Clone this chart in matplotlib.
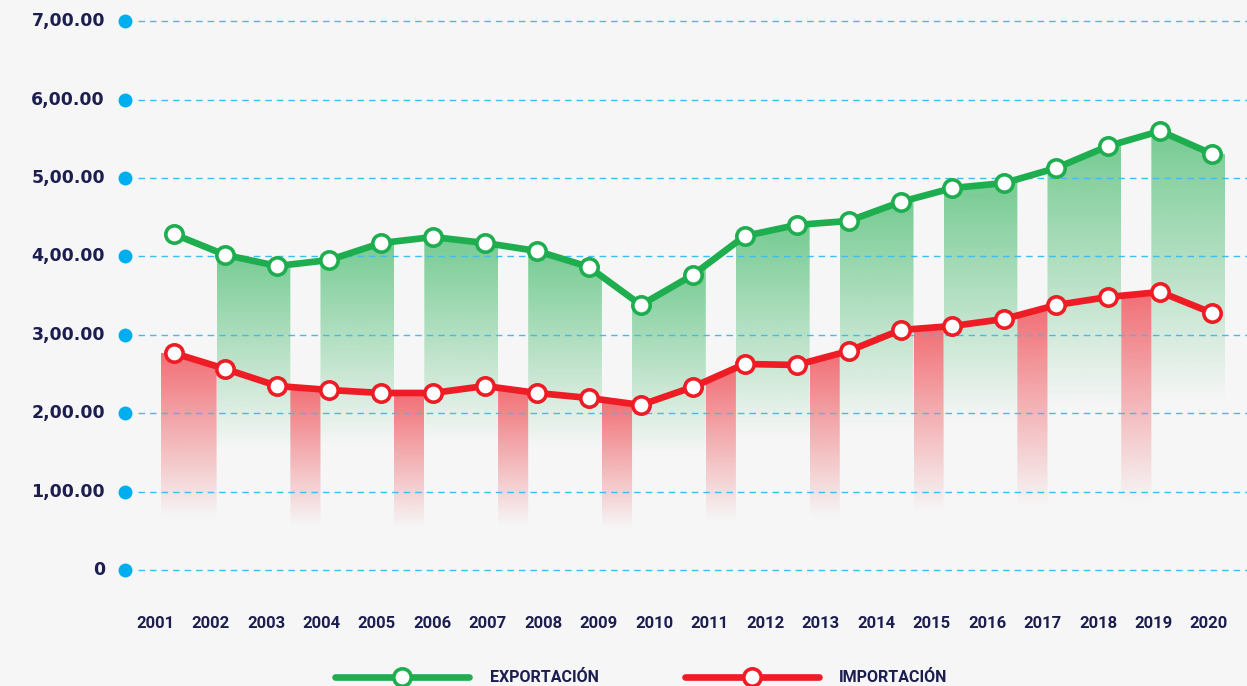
import numpy as np
import matplotlib
matplotlib.use('Agg')
import matplotlib.pyplot as plt
from matplotlib.patches import Polygon
from matplotlib.lines import Line2D
import matplotlib.transforms as mtransforms
from matplotlib.colors import to_rgb

# ---------------- data ----------------
years = ['2001', '2002', '2003', '2004', '2005', '2006', '2007', '2008', '2009', '2010',
         '2011', '2012', '2013', '2014', '2015', '2016', '2017', '2018', '2019', '2020']
exportacion = [428.6, 401.8, 387.8, 395.4, 417.1, 424.7, 417.1, 406.9, 386.5, 338.0,
               376.3, 426.0, 440.1, 445.2, 469.4, 487.2, 493.6, 512.8, 540.8, 559.9, 530.6]
importacion = [276.8, 256.4, 234.7, 229.6, 225.8, 225.8, 234.7, 225.8, 219.4, 210.5,
               233.4, 262.8, 261.5, 279.3, 306.1, 311.2, 320.2, 338.0, 348.2, 354.6, 327.8]
ytick_values = [0, 100, 200, 300, 400, 500, 600, 700]
ytick_labels = ['0', '1,00.00', '2,00.00', '3,00.00', '4,00.00', '5,00.00', '6,00.00', '7,00.00']
series_names = ['EXPORTACIÓN', 'IMPORTACIÓN']

# ---------------- style ----------------
BG = '#f6f6f6'
GREEN = '#1fae4f'
RED = '#ee1c25'
NAVY = '#1c1e50'
CYAN = '#00aeef'
GRID = '#3dbdf0'
YEAR_FONT = ['Roboto', 'DejaVu Sans']

W, H = 1247, 686
fig = plt.figure(figsize=(W / 100, H / 100), dpi=100, facecolor=BG)
ax = fig.add_axes([0, 0, 1, 1])
ax.set_facecolor(BG)
ax.axis('off')

# mapping: point index -> pixel, value -> pixel
x0px, dxpx = 173.5, 51.93
y0px, pxper = 570.0, 0.784
xlim = (-x0px / dxpx, (W - x0px) / dxpx)
ylim = ((y0px - H) / pxper, y0px / pxper)

idx = np.arange(len(exportacion))


def gradient_bar(xa, xb, vals, color, frac, alpha_top):
    xs = np.linspace(xa, xb, 60)
    top = np.interp(xs, idx, vals)
    tmax = top.max()
    bottom = tmax * (1 - frac)
    n = 256
    rgba = np.zeros((n, 1, 4))
    rgba[..., :3] = to_rgb(color)
    rgba[:, 0, 3] = np.linspace(alpha_top, 0, n)
    im = ax.imshow(rgba, extent=[xa, xb, bottom, tmax], aspect='auto',
                   origin='upper', zorder=1, interpolation='bilinear')
    poly = Polygon(np.column_stack([np.r_[xa, xs, xb], np.r_[bottom, top, bottom]]),
                   closed=True, transform=ax.transData, facecolor='none', edgecolor='none')
    im.set_clip_path(poly)


# red bars
gradient_bar(-0.24, 0.83, importacion, RED, 0.76, 0.62)
for k in range(1, 10):
    gradient_bar(0.25 + 2 * k, 0.83 + 2 * k, importacion, RED, 0.76, 0.62)
# green bars
for k in range(10):
    gradient_bar(0.83 + 2 * k, 2.25 + 2 * k, exportacion, GREEN, 0.62, 0.6)

ax.set_xlim(*xlim)
ax.set_ylim(*ylim)

# gridlines, dots, labels
trans = mtransforms.blended_transform_factory(ax.transAxes, ax.transData)
for v, lab in zip(ytick_values, ytick_labels):
    ax.axhline(v, xmin=138 / W, xmax=1, color=GRID, lw=1.0, ls=(0, (4.7, 3.6)), zorder=2)
    ax.text(105 / W, v, lab, transform=trans, ha='right', va='center', fontsize=12.5,
            fontweight='bold', color=NAVY, family=['DejaVu Sans'])
ax.plot([125 / W] * len(ytick_values), ytick_values, 'o', ms=9, color=CYAN,
        transform=trans, clip_on=False, zorder=3)

# lines
for vals, col in [(exportacion, GREEN), (importacion, RED)]:
    ax.plot(idx, vals, color=col, lw=4.8, marker='o', ms=12.5, mfc='white', mec=col,
            mew=2.6, zorder=4, solid_joinstyle='round')

# year labels
for k, y in enumerate(years):
    fig.text((155 + 55.47 * k) / W, 1 - 624 / H, y, ha='center', va='center',
             fontsize=12, fontweight='bold', color=NAVY, family=YEAR_FONT)

# legend
ly = 677
for (x_a, x_b, x_m, x_t), col, name in [((335, 469, 402, 490), GREEN, series_names[0]),
                                         ((685, 819, 752, 839), RED, series_names[1])]:
    fig.add_artist(Line2D([x_a / W, x_b / W], [1 - ly / H] * 2, transform=fig.transFigure,
                          color=col, lw=4.8, solid_capstyle='round'))
    fig.add_artist(Line2D([x_m / W], [1 - ly / H], transform=fig.transFigure, marker='o',
                          ms=12.5, mfc='white', mec=col, mew=2.6, ls='none'))
    fig.text(x_t / W, 1 - 682 / H, name, ha='left', va='baseline', fontsize=11.5,
             fontweight='bold', color=NAVY, family=YEAR_FONT)

fig.savefig('out.png', dpi=100, facecolor=BG)
